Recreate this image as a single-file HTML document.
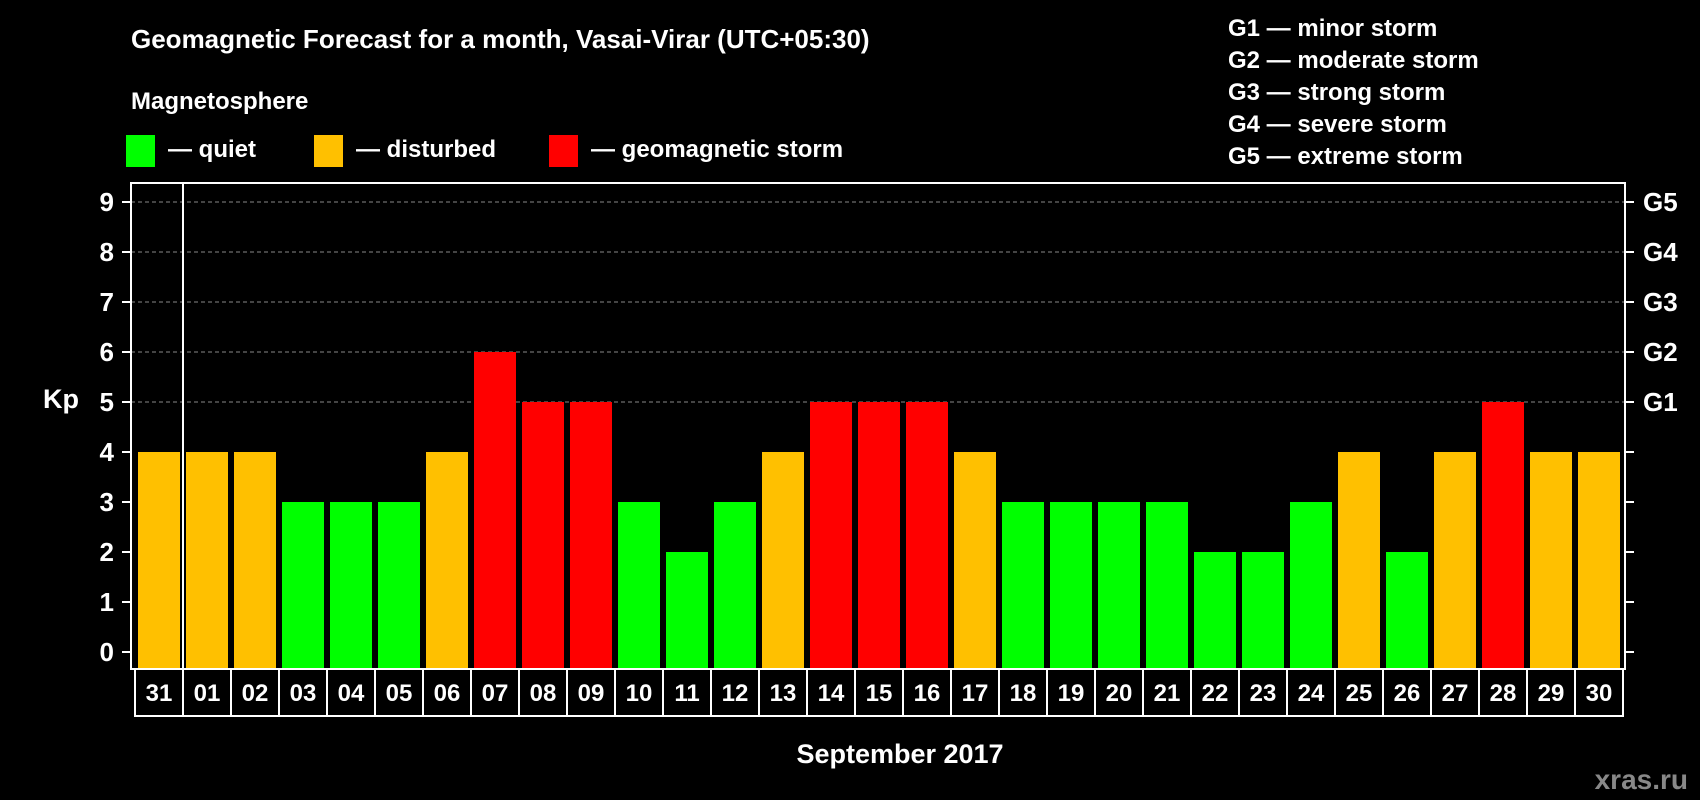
<!DOCTYPE html>
<html><head><meta charset="utf-8"><style>
html,body{margin:0;padding:0;background:#000;}
svg{display:block;font-family:"Liberation Sans",Arial,sans-serif;font-weight:bold;}
</style></head><body>
<svg id="chart" width="1700" height="800" viewBox="0 0 1700 800">
<rect width="1700" height="800" fill="#000"/>
<text x="131" y="48" fill="#fff" font-size="26">Geomagnetic Forecast for a month, Vasai-Virar (UTC+05:30)</text>
<text x="131" y="109" fill="#fff" font-size="24">Magnetosphere</text>
<g><rect x="126" y="135" width="29" height="32" fill="#00ff00"/><text x="168" y="157" fill="#fff" font-size="24">— quiet</text></g>
<g><rect x="314" y="135" width="29" height="32" fill="#ffc000"/><text x="356" y="157" fill="#fff" font-size="24">— disturbed</text></g>
<g><rect x="549" y="135" width="29" height="32" fill="#ff0000"/><text x="591" y="157" fill="#fff" font-size="24">— geomagnetic storm</text></g>
<g fill="#fff" font-size="24">
<text x="1228" y="36">G1 — minor storm</text>
<text x="1228" y="68">G2 — moderate storm</text>
<text x="1228" y="100">G3 — strong storm</text>
<text x="1228" y="132">G4 — severe storm</text>
<text x="1228" y="164">G5 — extreme storm</text>
</g>
<text x="43" y="408" fill="#fff" font-size="27">Kp</text>
<text x="900" y="763" fill="#fff" font-size="27" text-anchor="middle">September 2017</text>
<text x="1688" y="789" fill="#888" font-size="28" text-anchor="end">xras.ru</text>
<g id="grid"></g><g id="bars"></g><g id="axes"></g>
</svg>
<script>
const days=["31","01","02","03","04","05","06","07","08","09","10","11","12","13","14","15","16","17","18","19","20","21","22","23","24","25","26","27","28","29","30"];
const kpValues=[4,4,4,3,3,3,4,6,5,5,3,2,3,4,5,5,5,4,3,3,3,3,2,2,3,4,2,4,5,4,4];
const yTicks=[0,1,2,3,4,5,6,7,8,9];
const gLabels=["","","","","","G1","G2","G3","G4","G5"];
const NS="http://www.w3.org/2000/svg";
const L=131,R=1625,T=183,B=669;
const y=v=>652-v*50;
const x=i=>138+i*48;
function mk(tag,attrs,parent,text){const e=document.createElementNS(NS,tag);for(const k in attrs)e.setAttribute(k,attrs[k]);if(text!==undefined)e.textContent=text;parent.appendChild(e);return e;}
const grid=document.getElementById('grid'),bars=document.getElementById('bars'),axes=document.getElementById('axes');
yTicks.forEach((t,j)=>{
 if(t>=5){const g=mk('line',{x1:L,x2:R,y1:y(t),y2:y(t),stroke:'#888','stroke-width':1,'stroke-dasharray':'4,3'},grid);
 
 }
 mk('line',{x1:122,x2:L,y1:y(t),y2:y(t),stroke:'#fff','stroke-width':2},axes);
 mk('line',{x1:R,x2:1634,y1:y(t),y2:y(t),stroke:'#fff','stroke-width':2},axes);
 const lb=mk('text',{x:114,y:y(t)+9,fill:'#fff','font-size':26,'text-anchor':'end'},axes,String(t));
 
 
 if(gLabels[j]){const gl=mk('text',{x:1643,y:y(t)+9,fill:'#fff','font-size':26},axes,gLabels[j]);
 
 }
});
kpValues.forEach((v,i)=>{
 const c=v>=5?'#ff0000':(v>=4?'#ffc000':'#00ff00');
 const r=mk('rect',{x:x(i),y:y(v),width:42,height:B-y(v),fill:c},bars);
 
 
 const cell=mk('rect',{x:x(i)-3,y:B,width:48,height:47,fill:'none',stroke:'#fff','stroke-width':2},axes);
 
 
 const t=mk('text',{x:x(i)+21,y:701,fill:'#fff','font-size':24,'text-anchor':'middle'},axes,days[i]);
 
 
});
const fr=mk('rect',{x:L,y:T,width:R-L,height:B-T,fill:'none',stroke:'#fff','stroke-width':2},axes);


const sep=mk('line',{x1:183,x2:183,y1:T,y2:B,stroke:'#fff','stroke-width':2},axes);


</script>
</body></html>
